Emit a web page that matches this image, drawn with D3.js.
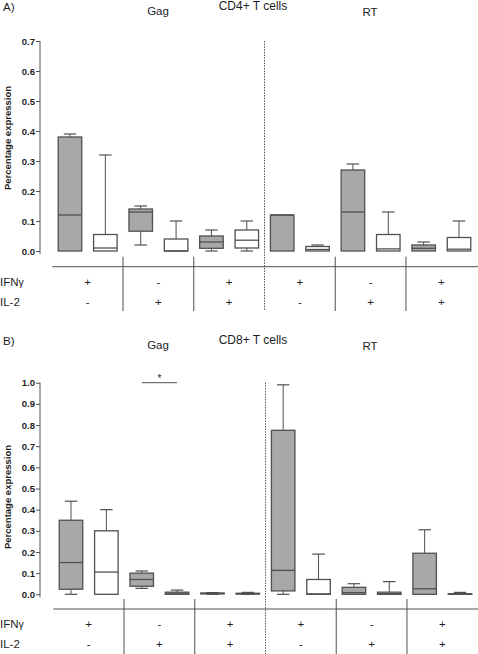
<!DOCTYPE html>
<html><head><meta charset="utf-8">
<script src="https://cdn.jsdelivr.net/npm/d3@7"></script>
<style>body{margin:0;background:#fff}svg{display:block;font-family:"Liberation Sans",Arial,sans-serif}</style>
</head><body>
<svg id="c" width="478" height="654"></svg>
<script>
// ---- data ----
const boxIndex = [0,1,2,3,4,5,6,7,8,9,10,11];
const antigens = ["Gag","RT"];
const ifngRow = ["+","-","+","+","-","+"];
const il2Row  = ["-","+","+","-","+","+"];
const cd4Ticks = [0.0,0.1,0.2,0.3,0.4,0.5,0.6,0.7];
const cd8Ticks = [0.0,0.1,0.2,0.3,0.4,0.5,0.6,0.7,0.8,0.9,1.0];
// CD4+ T cells
const cd4Max = [0.39,0.32,0.15,0.10,0.07,0.10,0.12,0.02,0.29,0.13,0.03,0.10];
const cd4Q3  = [0.38,0.055,0.14,0.04,0.05,0.07,0.12,0.015,0.27,0.055,0.02,0.045];
const cd4Med = [0.12,0.01,0.13,0.0,0.03,0.036,0.12,0.005,0.13,0.007,0.009,0.006];
const cd4Q1  = [0.0,0.0,0.066,0.0,0.009,0.01,0.0,0.0,0.0,0.0,0.0,0.0];
const cd4Min = [0.0,0.0,0.02,0.0,0.0,0.0,0.0,0.0,0.0,0.0,0.0,0.0];
// CD8+ T cells
const cd8Max = [0.44,0.40,0.11,0.02,0.008,0.009,0.99,0.19,0.05,0.06,0.305,0.009];
const cd8Q3  = [0.35,0.30,0.10,0.01,0.006,0.005,0.775,0.07,0.033,0.01,0.194,0.003];
const cd8Med = [0.15,0.105,0.07,0.005,0.004,0.003,0.113,0.002,0.008,0.003,0.026,0.001];
const cd8Q1  = [0.024,0.0,0.038,0.0,0.002,0.001,0.016,0.0,0.0,0.0,0.0,0.0];
const cd8Min = [0.0,0.0,0.028,0.0,0.0,0.0,0.0,0.0,0.0,0.0,0.0,0.0];

const svg = d3.select("#c");
const GRAY = "#a8a8a8", LINE = "#505050", TXT = "#1e1e1e";

function panel(o){
  const g = svg.append("g");
  const x = d3.scaleBand().domain(boxIndex).range(o.xr).paddingInner(0.335).paddingOuter(0.1675);
  const y = d3.scaleLinear().domain([0, o.ticks[o.ticks.length-1]]).range([o.y0, o.y1]);
  // y axis
  const ax = g.append("g").attr("transform","translate(40,0)")
    .call(d3.axisLeft(y).tickValues(o.ticks).tickFormat(d3.format(".1f")).tickSize(4).tickSizeOuter(0));
  ax.select(".domain").attr("stroke",LINE).attr("d",`M0,${o.y1}V${o.y0+3}`);
  ax.selectAll(".tick line").attr("stroke",LINE);
  ax.selectAll(".tick text").attr("font-size",9.5).attr("font-weight","bold").attr("fill",TXT).attr("x",-5)
    .attr("font-family","'Liberation Sans',Arial,sans-serif");
  // y title
  g.append("text").attr("transform",`translate(11,${o.ytitle}) rotate(-90)`).attr("text-anchor","middle")
    .attr("font-size",9.5).attr("font-weight","bold").attr("fill",TXT).text("Percentage expression");
  // titles
  g.append("text").attr("x",3).attr("y",o.tY).attr("font-size",11.5).attr("fill",TXT).text(o.label);
  g.append("text").attr("x",158).attr("y",o.tY+4).attr("font-size",11.5).attr("fill",TXT).attr("text-anchor","middle").text(antigens[0]);
  g.append("text").attr("x",253).attr("y",o.tY-1).attr("font-size",12).attr("fill",TXT).attr("text-anchor","middle").text(o.title);
  g.append("text").attr("x",370).attr("y",o.tY+5).attr("font-size",11.5).attr("fill",TXT).attr("text-anchor","middle").text(antigens[1]);
  // dashed separator
  const sepX = x(6) - x.step()*x.paddingInner()/2;
  g.append("line").attr("x1",sepX).attr("x2",sepX).attr("y1",o.y1).attr("y2",o.tableBottom)
    .attr("stroke","#555").attr("stroke-dasharray","1.5,1.2").attr("stroke-width",1);
  // boxes
  const bw = x.bandwidth(), cap = bw*0.53;
  boxIndex.forEach(i=>{
    const cx = x(i)+bw/2;
    const fill = i%2===0 ? GRAY : "#fff";
    const bg = g.append("g");
    if (o.max[i] > o.q3[i]) {
      bg.append("line").attr("x1",cx).attr("x2",cx).attr("y1",y(o.max[i])).attr("y2",y(o.q3[i])).attr("stroke",LINE);
      bg.append("line").attr("x1",cx-cap/2).attr("x2",cx+cap/2).attr("y1",y(o.max[i])).attr("y2",y(o.max[i])).attr("stroke",LINE).attr("stroke-width",1.2);
    }
    if (o.min[i] < o.q1[i]) {
      bg.append("line").attr("x1",cx).attr("x2",cx).attr("y1",y(o.q1[i])).attr("y2",y(o.min[i])).attr("stroke",LINE);
      bg.append("line").attr("x1",cx-cap/2).attr("x2",cx+cap/2).attr("y1",y(o.min[i])).attr("y2",y(o.min[i])).attr("stroke",LINE).attr("stroke-width",1.2);
    }
    bg.append("rect").attr("x",x(i)).attr("width",bw).attr("y",y(o.q3[i])).attr("height",Math.max(0.5,y(o.q1[i])-y(o.q3[i])))
      .attr("fill",fill).attr("stroke",LINE).attr("stroke-width",1.3);
    bg.append("line").attr("x1",x(i)).attr("x2",x(i)+bw).attr("y1",y(o.med[i])).attr("y2",y(o.med[i])).attr("stroke",LINE).attr("stroke-width",1.3);
  });
  // table
  g.append("line").attr("x1",o.xr[0]).attr("x2",478).attr("y1",o.tableLine).attr("y2",o.tableLine).attr("stroke",LINE);
  for (let k=1;k<6;k++){
    if (k===3) continue;
    const sx = x(2*k) - x.step()*x.paddingInner()/2;
    g.append("line").attr("x1",sx).attr("x2",sx).attr("y1",o.tableLine-10).attr("y2",o.tableBottom).attr("stroke",LINE);
  }
  const rowIFN = o.tableLine+19, rowIL = o.tableLine+39;
  const tIFN = g.append("text").attr("x",0).attr("y",rowIFN).attr("font-size",11.5).attr("fill",TXT);
  tIFN.append("tspan").text("IFN"); tIFN.append("tspan").attr("font-size",10.5).text("γ");
  g.append("text").attr("x",0).attr("y",rowIL).attr("font-size",11.5).attr("fill",TXT).text("IL-2");
  for (let k=0;k<6;k++){
    const gx = (x(2*k) + x(2*k+1)+bw)/2;
    g.append("text").attr("x",gx).attr("y",rowIFN).attr("font-size",11.5).attr("text-anchor","middle").attr("fill",TXT).text(ifngRow[k]);
    g.append("text").attr("x",gx).attr("y",rowIL).attr("font-size",11.5).attr("text-anchor","middle").attr("fill",TXT).text(il2Row[k]);
  }
  return {x,y};
}

panel({label:"A)", title:"CD4+ T cells", tY:11, xr:[52.3,476.7], y0:251, y1:41, ticks:cd4Ticks, ytitle:138,
  max:cd4Max,q3:cd4Q3,med:cd4Med,q1:cd4Q1,min:cd4Min, tableLine:266.7, tableBottom:311});
const p2 = panel({label:"B)", title:"CD8+ T cells", tY:345, xr:[53.3,477.7], y0:594.3, y1:382.7, ticks:cd8Ticks, ytitle:497,
  max:cd8Max,q3:cd8Q3,med:cd8Med,q1:cd8Q1,min:cd8Min, tableLine:609, tableBottom:654});
// significance bar
const sx1 = p2.x(2)+p2.x.bandwidth()/2, sx2 = p2.x(3)+p2.x.bandwidth()/2;
svg.append("line").attr("x1",sx1).attr("x2",sx2).attr("y1",p2.y(1.0)).attr("y2",p2.y(1.0)).attr("stroke",LINE);
svg.append("text").attr("x",(sx1+sx2)/2).attr("y",p2.y(1.0)-1).attr("text-anchor","middle").attr("font-size",10).attr("fill",TXT).text("*");
</script>
</body></html>
